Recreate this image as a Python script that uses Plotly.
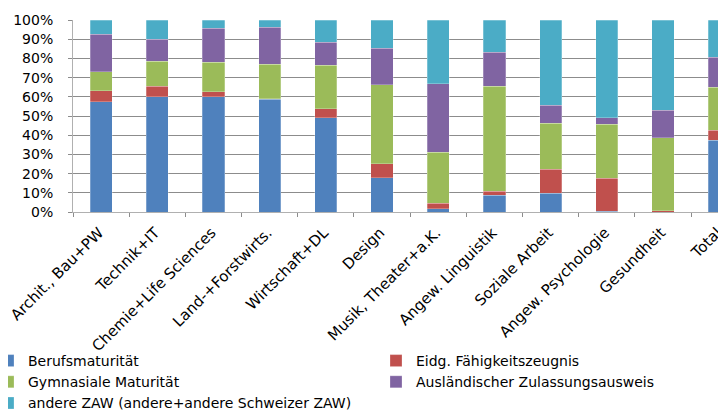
import plotly.graph_objects as go

categories = ["Archit., Bau+PW", "Technik+IT", "Chemie+Life Sciences", "Land-+Forstwirts.",
              "Wirtschaft+DL", "Design", "Musik, Theater+a.K.", "Angew. Linguistik",
              "Soziale Arbeit", "Angew. Psychologie", "Gesundheit", "Total"]

berufsmaturitaet = [57.4, 60.0, 60.0, 58.6, 49.0, 17.9, 1.6, 8.7, 9.8, 0.5, 0.0, 37.4]
eidg_faehigkeit = [5.7, 5.6, 2.6, 0.3, 4.7, 7.3, 2.9, 2.1, 12.5, 17.1, 0.7, 5.2]
gymnasiale = [9.9, 13.0, 15.5, 18.1, 22.7, 41.1, 26.5, 54.6, 23.8, 28.0, 38.1, 22.3]
auslaendisch = [19.7, 11.3, 17.7, 19.2, 12.1, 18.9, 35.8, 17.9, 9.6, 3.4, 14.1, 15.8]
andere_zaw = [7.3, 10.1, 4.2, 3.8, 11.5, 14.8, 33.2, 16.7, 44.3, 51.0, 47.1, 19.3]

series = [
    ("Berufsmaturität", berufsmaturitaet, "#4F81BD", "legend"),
    ("Eidg. Fähigkeitszeugnis", eidg_faehigkeit, "#C0504D", "legend2"),
    ("Gymnasiale Maturität", gymnasiale, "#9BBB59", "legend"),
    ("Ausländischer Zulassungsausweis", auslaendisch, "#8064A2", "legend2"),
    ("andere ZAW (andere+andere Schweizer ZAW)", andere_zaw, "#4BACC6", "legend"),
]

FONT = "DejaVu Sans"

fig = go.Figure()
for name, vals, color, lg in series:
    fig.add_trace(go.Bar(
        x=categories, y=vals, name=name, legend=lg,
        marker=dict(color=color, line=dict(color="rgba(255,255,255,0.5)", width=0.5)),
    ))

# page body has an 8px default margin, so the figure is sized to end at the window edge
W, H = 718, 402
L, R, T, B = 65, 0, 12, 198
PW = W - L - R

fig.update_layout(
    width=W, height=H,
    margin=dict(l=L, r=R, t=T, b=B, autoexpand=False),
    barmode="stack", barnorm="percent", bargap=0.605,
    plot_bgcolor="white", paper_bgcolor="white",
    font=dict(family=FONT, size=14, color="#000000"),
    xaxis=dict(
        type="category", categoryorder="array", categoryarray=categories,
        range=[-0.5, 11.12], tickangle=-45, tickfont=dict(size=15),
        showline=True, linecolor="#b0b0b0", linewidth=1,
        ticks="outside", tickson="boundaries", ticklen=4, tickcolor="#8c8c8c",
        showgrid=False, zeroline=False, ticklabelstandoff=5, ticklabelshift=-2,
        automargin=False,
    ),
    yaxis=dict(
        range=[0, 100], dtick=10, ticksuffix="%", tickfont=dict(size=14),
        showline=True, linecolor="#b0b0b0", linewidth=1,
        ticks="outside", ticklen=4, tickcolor="#8c8c8c",
        showgrid=True, gridcolor="#8c8c8c", gridwidth=1, zeroline=False,
        ticklabelstandoff=12, automargin=False,
    ),
    legend=dict(
        xref="paper", yref="container", x=(-20 - L) / PW, y=1 - 337 / H,
        xanchor="left", yanchor="top", orientation="v",
        bgcolor="rgba(0,0,0,0)", font=dict(size=14), traceorder="normal",
    ),
    legend2=dict(
        xref="paper", yref="container", x=(368 - L) / PW, y=1 - 337 / H,
        xanchor="left", yanchor="top", orientation="v",
        bgcolor="rgba(0,0,0,0)", font=dict(size=14), traceorder="normal",
    ),
)

fig.write_html("out.html")
